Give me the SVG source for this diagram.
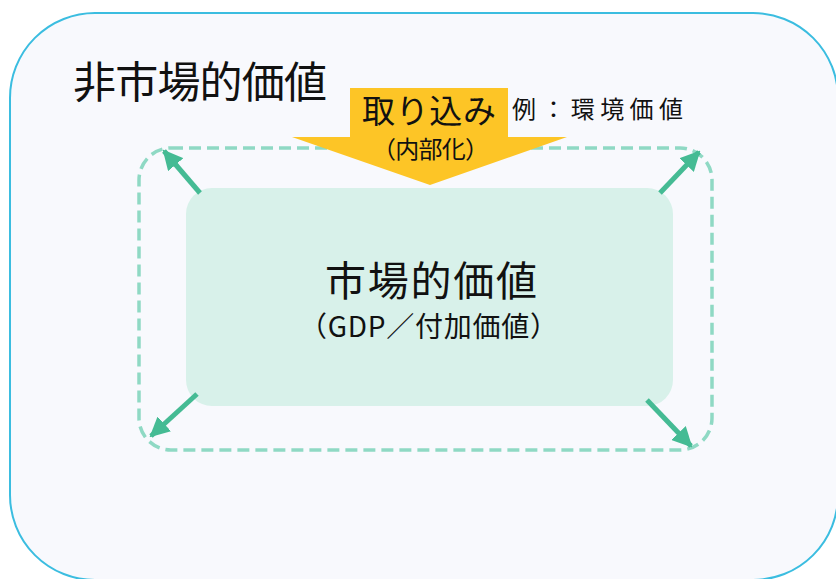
<svg xmlns="http://www.w3.org/2000/svg" width="836" height="579" viewBox="0 0 836 579">
<defs>
<marker id="ah" viewBox="0 0 10 10" refX="9" refY="5" markerWidth="4" markerHeight="4" orient="auto" markerUnits="strokeWidth">
<path d="M0,0 L10,5 L0,10 z" fill="#45bb94"/>
</marker>
<style>
text{font-family:"Noto Sans CJK JP","Noto Sans",sans-serif;fill:#111;}
.arr{stroke:#45bb94;stroke-width:5;fill:none;marker-end:url(#ah);}
</style>
</defs>
<rect width="836" height="579" fill="#ffffff"/>
<g id="non-market">
<rect x="10" y="13" width="828" height="567" rx="85" ry="85" fill="#f8f9fd" stroke="#3bbde0" stroke-width="2"/>
<text x="73" y="98" font-size="43" textLength="254" lengthAdjust="spacing">非市場的価値</text>
</g>
<g id="boundary">
<rect x="139" y="148" width="573" height="302" rx="32" ry="32" fill="none" stroke="#8fd9c4" stroke-width="3.5" stroke-dasharray="12 6"/>
</g>
<g id="market">
<rect x="186" y="188" width="487" height="218" rx="26" ry="26" fill="#d8f1ea"/>
<text x="325" y="296" font-size="41" textLength="212" lengthAdjust="spacing">市場的価値</text>
<text x="299" y="337" font-size="28" textLength="259" lengthAdjust="spacing">（GDP／付加価値）</text>
</g>
<g id="internalize">
<polygon points="350,88 508,88 508,137 567,137 430,185 292,137 350,137" fill="#fdc526"/>
<text x="362" y="123" font-size="33" textLength="134" lengthAdjust="spacing">取り込み</text>
<text x="372" y="158" font-size="24" textLength="117" lengthAdjust="spacing">（内部化）</text>
<text x="512" y="118" font-size="24" textLength="171" lengthAdjust="spacing">例：環境価値</text>
</g>
<g id="connectors">
<line class="arr" x1="200" y1="193" x2="164" y2="151"/>
<line class="arr" x1="660" y1="193" x2="699" y2="152"/>
<line class="arr" x1="197" y1="394" x2="151" y2="436"/>
<line class="arr" x1="647" y1="400" x2="691" y2="446"/>
</g>
</svg>
